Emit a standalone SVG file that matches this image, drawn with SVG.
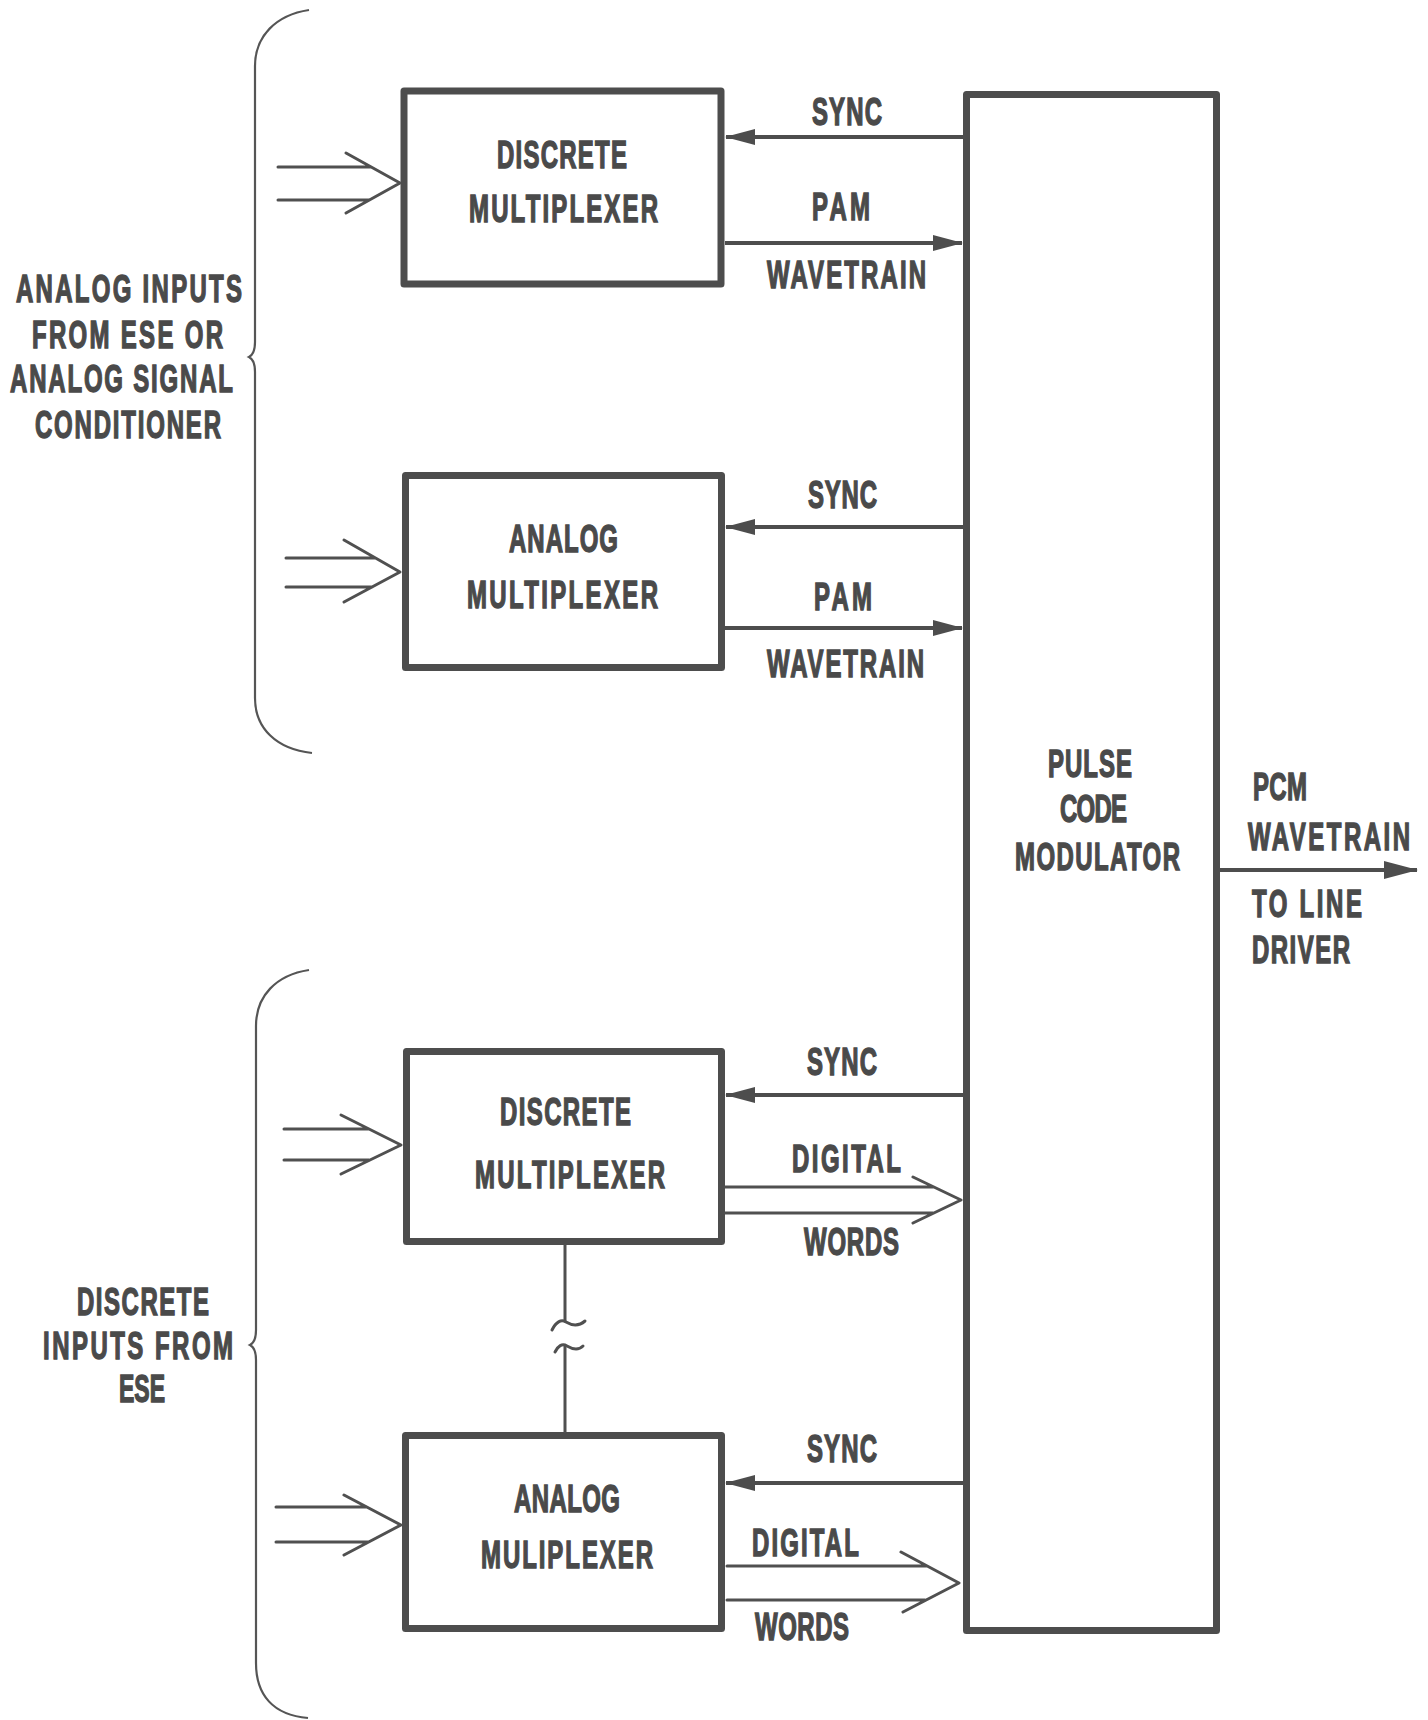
<svg xmlns="http://www.w3.org/2000/svg" width="1428" height="1720" viewBox="0 0 1428 1720">
<style>
  text { font-family: "Liberation Sans", Arial, sans-serif; font-weight: bold; font-size: 24px; fill: #4a4a4a; stroke: #4a4a4a; stroke-width: 0.9px; }
  .box { fill: none; stroke: #4d4d4d; stroke-width: 7; stroke-linejoin: round; }
  .thin { fill: none; stroke: #505050; stroke-width: 3; stroke-linecap: round; stroke-linejoin: round; }
  .sig { fill: none; stroke: #4d4d4d; stroke-width: 4; }
  .brace { fill: none; stroke: #555555; stroke-width: 2.2; }
</style>
<defs>
  <marker id="solid" markerUnits="userSpaceOnUse" markerWidth="30" markerHeight="18" viewBox="0 0 30 18" refX="29" refY="9" orient="auto">
    <path d="M0,1 L30,9 L0,17 Z" fill="#4d4d4d"/>
  </marker>
  <marker id="solidL" markerUnits="userSpaceOnUse" markerWidth="34" markerHeight="20" viewBox="0 0 34 20" refX="33" refY="10" orient="auto">
    <path d="M0,1 L34,10 L0,19 Z" fill="#4d4d4d"/>
  </marker>
</defs>
<rect width="1428" height="1720" fill="#ffffff"/>

<g id="brace-analog">
  <path class="brace" d="M309,10 C276,15 255,36 255,66 L255,342 Q255,354 249,357 Q255,360 255,372 L255,698 C255,728 276,749 312,753"/>
  <text transform="translate(16,302) scale(1,1.63)" textLength="226" lengthAdjust="spacing">ANALOG INPUTS</text>
  <text transform="translate(32,348) scale(1,1.63)" textLength="191" lengthAdjust="spacing">FROM ESE OR</text>
  <text transform="translate(10,392) scale(1,1.63)" textLength="223" lengthAdjust="spacing">ANALOG SIGNAL</text>
  <text transform="translate(35,438) scale(1,1.63)" textLength="186" lengthAdjust="spacing">CONDITIONER</text>
</g>

<g id="brace-discrete">
  <path class="brace" d="M309,970 C276,975 256,996 256,1026 L256,1330 Q256,1342 250,1345 Q256,1348 256,1360 L256,1663 C256,1695 273,1715 308,1718"/>
  <text transform="translate(77,1315) scale(1,1.63)" textLength="132" lengthAdjust="spacing">DISCRETE</text>
  <text transform="translate(43,1359) scale(1,1.63)" textLength="190" lengthAdjust="spacing">INPUTS FROM</text>
  <text transform="translate(119,1402) scale(1,1.63)" textLength="46" lengthAdjust="spacingAndGlyphs">ESE</text>
</g>

<g id="discrete-mux-1">
  <rect class="box" x="404" y="91" width="317" height="193"/>
  <text transform="translate(497,168) scale(1,1.63)" textLength="130" lengthAdjust="spacing">DISCRETE</text>
  <text transform="translate(469,222) scale(1,1.63)" textLength="189" lengthAdjust="spacing">MULTIPLEXER</text>
</g>

<g id="analog-mux-1">
  <rect class="box" x="405.5" y="475.5" width="316" height="192"/>
  <text transform="translate(509,552) scale(1,1.63)" textLength="109" lengthAdjust="spacing">ANALOG</text>
  <text transform="translate(467,608) scale(1,1.63)" textLength="191" lengthAdjust="spacing">MULTIPLEXER</text>
</g>

<g id="discrete-mux-2">
  <rect class="box" x="406.5" y="1051.5" width="315" height="190"/>
  <text transform="translate(500,1125) scale(1,1.63)" textLength="131" lengthAdjust="spacing">DISCRETE</text>
  <text transform="translate(475,1188) scale(1,1.63)" textLength="190" lengthAdjust="spacing">MULTIPLEXER</text>
</g>

<g id="analog-mux-2">
  <rect class="box" x="405.5" y="1435.5" width="316" height="193"/>
  <text transform="translate(514,1512) scale(1,1.63)" textLength="106" lengthAdjust="spacing">ANALOG</text>
  <text transform="translate(481,1568) scale(1,1.63)" textLength="172" lengthAdjust="spacing">MULIPLEXER</text>
</g>

<g id="pcm">
  <rect class="box" x="966.5" y="94.5" width="250" height="1536"/>
  <text transform="translate(1048,777) scale(1,1.63)" textLength="84" lengthAdjust="spacing">PULSE</text>
  <text transform="translate(1060,822) scale(1,1.63)" textLength="67" lengthAdjust="spacing">CODE</text>
  <text transform="translate(1015,870) scale(1,1.63)" textLength="165" lengthAdjust="spacing">MODULATOR</text>
</g>

<g id="connectors">
  <path class="thin" d="M278,167 L371,167 M278,200 L369,200 M346,153 L400,183 L346,213"/>
  <path class="thin" d="M286,558 L375,558 M286,587 L372,587 M344,540 L400,572 L344,602"/>
  <path class="thin" d="M284,1129 L368,1129 M284,1160 L369,1160 M341,1115 L401,1145 L341,1174"/>
  <path class="thin" d="M276,1507 L366,1507 M276,1542 L368,1542 M344,1495 L401,1525 L344,1555"/>

  <line class="sig" x1="963" y1="137" x2="726" y2="137" marker-end="url(#solid)"/>
  <line class="sig" x1="963" y1="527" x2="726" y2="527" marker-end="url(#solid)"/>
  <line class="sig" x1="963" y1="1095" x2="726" y2="1095" marker-end="url(#solid)"/>
  <line class="sig" x1="963" y1="1483" x2="726" y2="1483" marker-end="url(#solid)"/>

  <line class="sig" x1="725" y1="243" x2="962" y2="243" marker-end="url(#solid)"/>
  <line class="sig" x1="725" y1="628" x2="962" y2="628" marker-end="url(#solid)"/>

  <path class="thin" d="M725,1187 L933,1187 M725,1213 L933,1213 M913,1177 L961,1200 L913,1223"/>
  <path class="thin" d="M727,1566 L926,1566 M727,1600 L925,1600 M901,1552 L959,1583 L903,1612"/>

  <path class="thin" d="M565,1245 L565,1321"/>
  <path class="thin" d="M552,1330 C556,1322 561,1319 566,1322 S578,1327 585,1321"/>
  <path class="thin" d="M555,1352 C558,1346 562,1343 567,1346 S578,1351 583,1346"/>
  <path class="thin" d="M565,1346 L565,1432"/>

  <line class="sig" x1="1220" y1="870" x2="1417" y2="870" marker-end="url(#solidL)"/>
</g>

<g id="labels">
  <text transform="translate(812,125) scale(1,1.63)" textLength="70" lengthAdjust="spacing">SYNC</text>
  <text transform="translate(812,220) scale(1,1.63)" textLength="58" lengthAdjust="spacing">PAM</text>
  <text transform="translate(767,288) scale(1,1.63)" textLength="159" lengthAdjust="spacing">WAVETRAIN</text>

  <text transform="translate(808,508) scale(1,1.63)" textLength="69" lengthAdjust="spacing">SYNC</text>
  <text transform="translate(814,610) scale(1,1.63)" textLength="58" lengthAdjust="spacing">PAM</text>
  <text transform="translate(767,677) scale(1,1.63)" textLength="157" lengthAdjust="spacing">WAVETRAIN</text>

  <text transform="translate(807,1075) scale(1,1.63)" textLength="70" lengthAdjust="spacing">SYNC</text>
  <text transform="translate(792,1172) scale(1,1.63)" textLength="109" lengthAdjust="spacing">DIGITAL</text>
  <text transform="translate(804,1255) scale(1,1.63)" textLength="95" lengthAdjust="spacing">WORDS</text>

  <text transform="translate(807,1462) scale(1,1.63)" textLength="70" lengthAdjust="spacing">SYNC</text>
  <text transform="translate(752,1556) scale(1,1.63)" textLength="107" lengthAdjust="spacing">DIGITAL</text>
  <text transform="translate(755,1640) scale(1,1.63)" textLength="94" lengthAdjust="spacing">WORDS</text>

  <text transform="translate(1253,800) scale(1,1.63)" textLength="54" lengthAdjust="spacing">PCM</text>
  <text transform="translate(1248,850) scale(1,1.63)" textLength="162" lengthAdjust="spacing">WAVETRAIN</text>
  <text transform="translate(1252,917) scale(1,1.63)" textLength="110" lengthAdjust="spacing">TO LINE</text>
  <text transform="translate(1252,963) scale(1,1.63)" textLength="98" lengthAdjust="spacing">DRIVER</text>
</g>
</svg>
